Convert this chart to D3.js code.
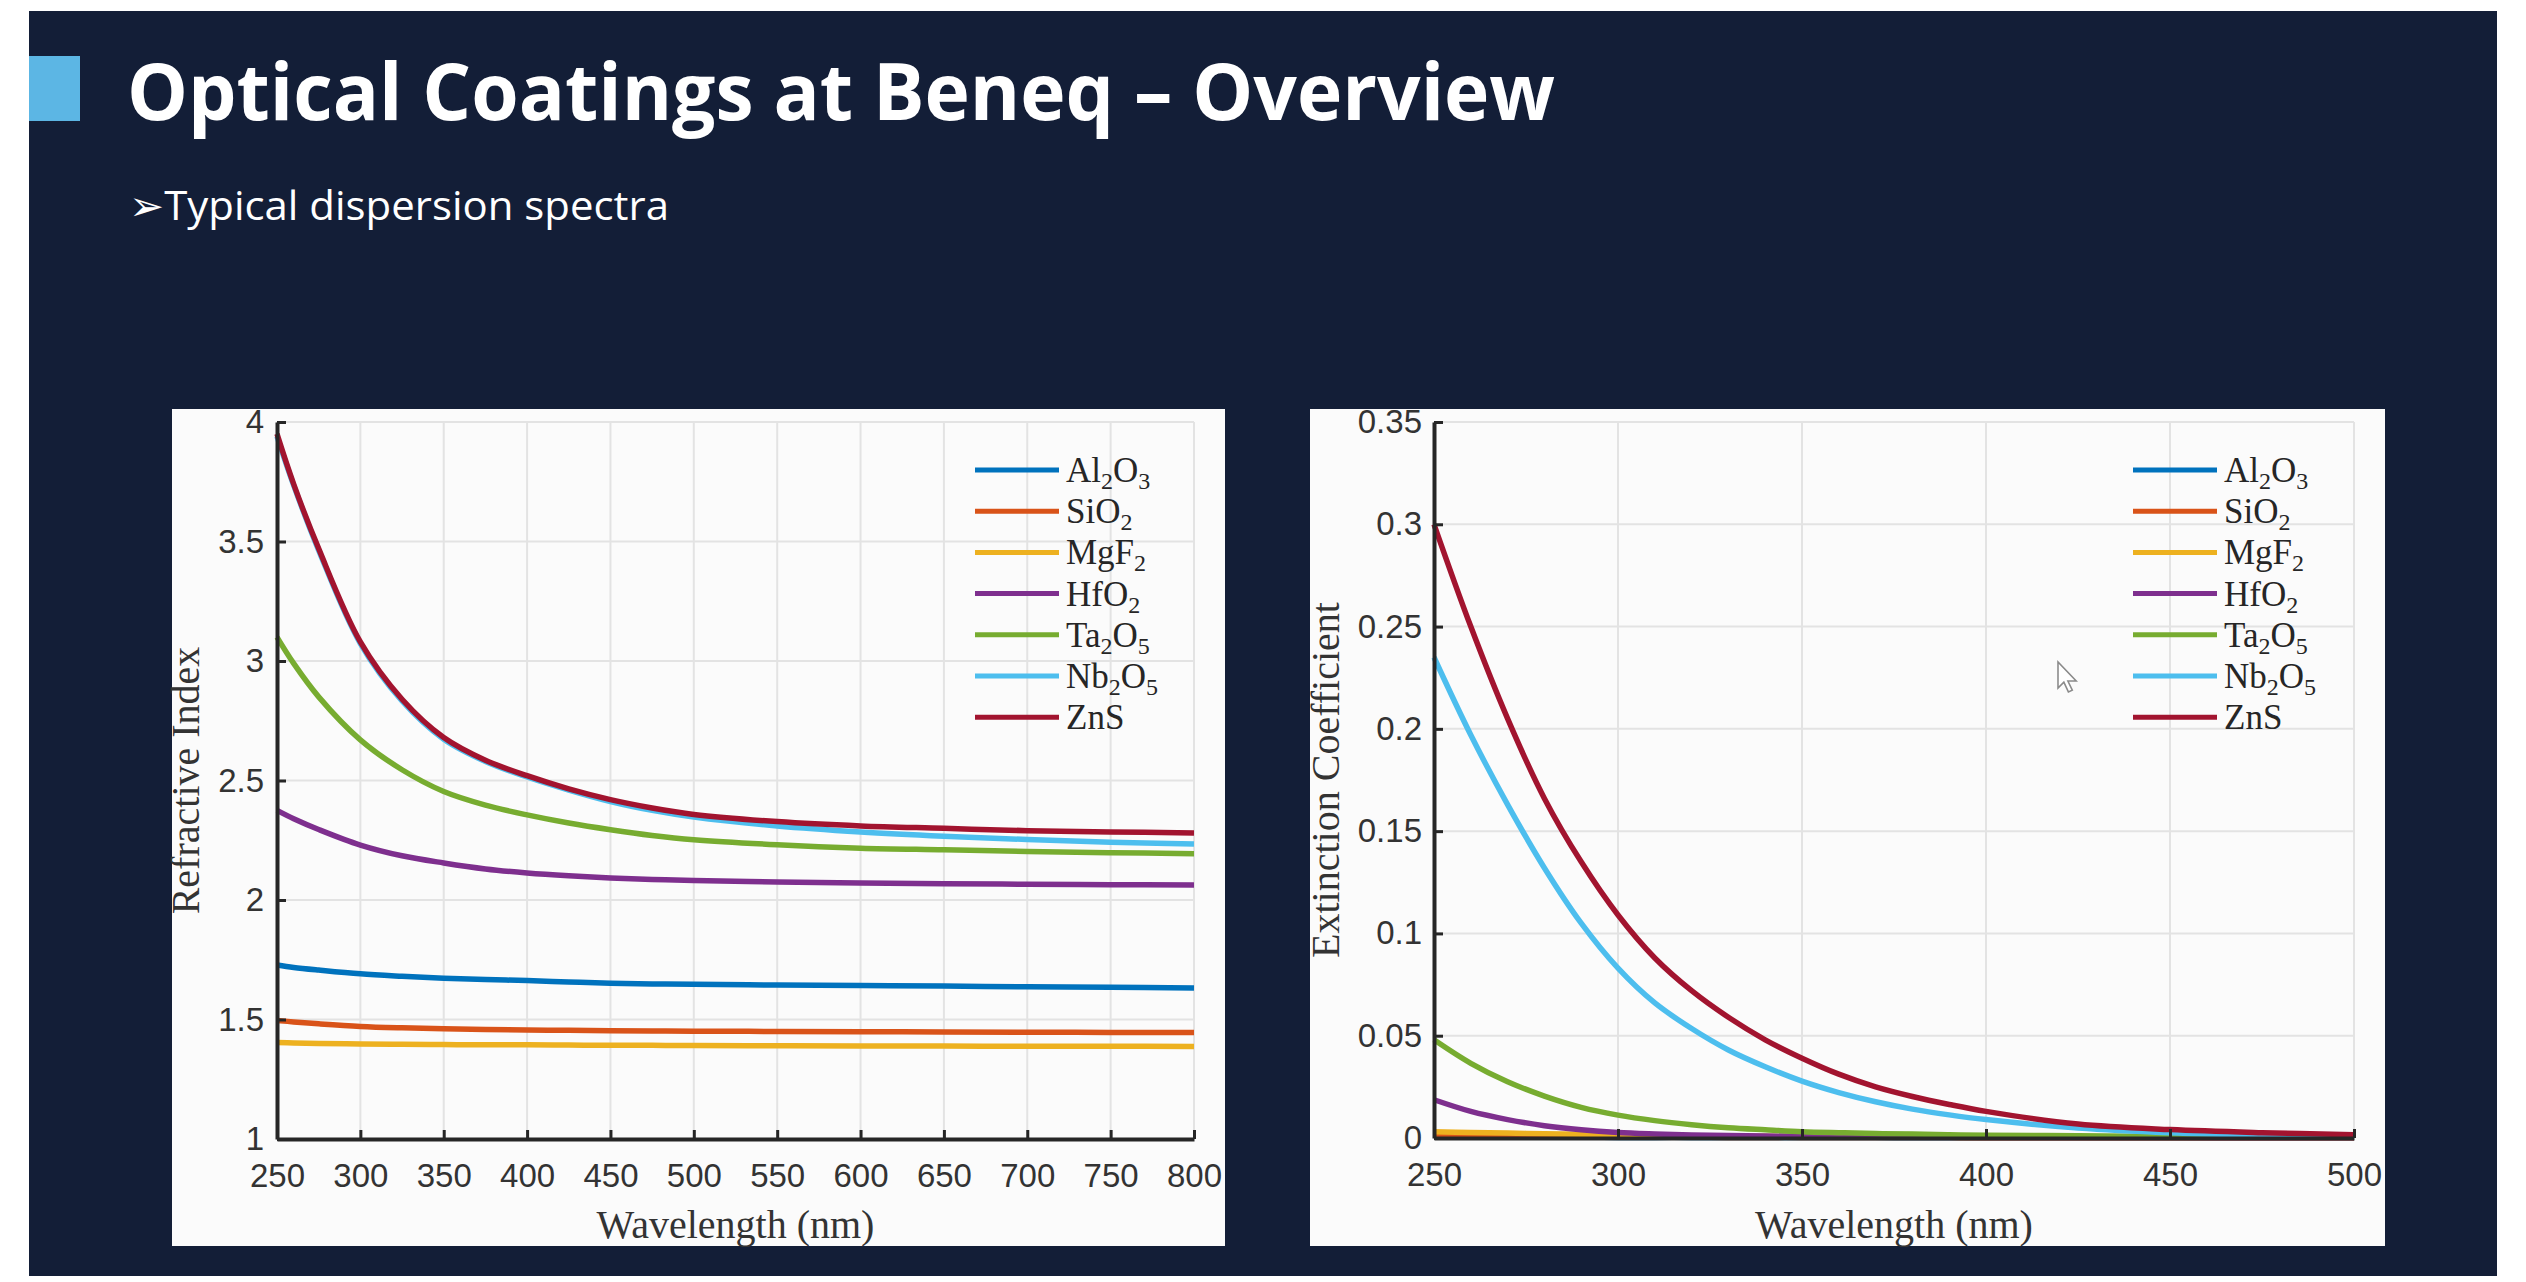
<!DOCTYPE html>
<html>
<head>
<meta charset="utf-8">
<title>Optical Coatings at Beneq – Overview</title>
<script src="https://cdn.jsdelivr.net/npm/d3@7"></script>
<style>
  html, body { margin: 0; padding: 0; background: #ffffff; }
  svg { display: block; }
</style>
</head>
<body>
<svg id="slide" width="2526" height="1282"></svg>
<script>
// ---- Materials (legend order = drawing order) ----
const materials = ["Al2O3", "SiO2", "MgF2", "HfO2", "Ta2O5", "Nb2O5", "ZnS"];
const colors = ["#0072BD", "#D95319", "#EDB120", "#7E2F8E", "#77AC30", "#4DBEEE", "#A2142F"];

// ---- Refractive index n(λ) ----
const wavelengthN = [250, 260, 275, 300, 325, 350, 375, 400, 425, 450, 475, 500, 550, 600, 650, 700, 750, 800];
const nAl2O3 = [1.728, 1.718, 1.707, 1.691, 1.681, 1.673, 1.667, 1.663, 1.657, 1.652, 1.649, 1.647, 1.644, 1.642, 1.640, 1.637, 1.635, 1.632];
const nSiO2  = [1.496, 1.490, 1.482, 1.471, 1.465, 1.461, 1.458, 1.456, 1.455, 1.453, 1.452, 1.451, 1.450, 1.449, 1.448, 1.447, 1.446, 1.446];
const nMgF2  = [1.404, 1.402, 1.400, 1.398, 1.396, 1.395, 1.394, 1.394, 1.393, 1.392, 1.392, 1.391, 1.390, 1.389, 1.389, 1.388, 1.388, 1.387];
const nHfO2  = [2.375, 2.340, 2.295, 2.230, 2.185, 2.155, 2.130, 2.113, 2.101, 2.092, 2.086, 2.082, 2.075, 2.071, 2.068, 2.066, 2.064, 2.063];
const nTa2O5 = [3.100, 2.990, 2.850, 2.670, 2.545, 2.454, 2.397, 2.356, 2.322, 2.294, 2.270, 2.252, 2.231, 2.217, 2.210, 2.203, 2.198, 2.194];
const nNb2O5 = [3.940, 3.735, 3.463, 3.073, 2.833, 2.673, 2.580, 2.515, 2.460, 2.412, 2.375, 2.347, 2.310, 2.285, 2.267, 2.253, 2.242, 2.234];
const nZnS   = [3.950, 3.740, 3.470, 3.080, 2.840, 2.680, 2.585, 2.520, 2.465, 2.420, 2.385, 2.358, 2.328, 2.310, 2.300, 2.290, 2.285, 2.280];

// ---- Extinction coefficient k(λ) ----
const wavelengthK = [250, 260, 270, 280, 290, 300, 310, 320, 330, 340, 350, 360, 370, 380, 390, 400, 425, 450, 475, 500];
const kAl2O3 = [0.0005, 0.0005, 0.0004, 0.0004, 0.0004, 0.0003, 0.0003, 0.0003, 0.0002, 0.0002, 0.0002, 0.0002, 0.0002, 0.0001, 0.0001, 0.0001, 0.0001, 0.0001, 0.0001, 0.0001];
const kSiO2  = [0.0009, 0.0008, 0.0007, 0.0006, 0.0005, 0.0005, 0.0004, 0.0004, 0.0003, 0.0003, 0.0003, 0.0002, 0.0002, 0.0002, 0.0002, 0.0001, 0.0001, 0.0001, 0.0001, 0.0001];
const kMgF2  = [0.0030, 0.0027, 0.0024, 0.0021, 0.0018, 0.0015, 0.0013, 0.0011, 0.0009, 0.0008, 0.0007, 0.0006, 0.0005, 0.0004, 0.0004, 0.0003, 0.0002, 0.0002, 0.0001, 0.0001];
const kHfO2  = [0.0187, 0.0130, 0.0090, 0.0060, 0.0040, 0.0027, 0.0020, 0.0015, 0.0012, 0.0010, 0.0008, 0.0007, 0.0006, 0.0005, 0.0004, 0.0003, 0.0002, 0.0002, 0.0001, 0.0001];
const kTa2O5 = [0.0480, 0.0365, 0.0275, 0.0205, 0.0150, 0.0112, 0.0085, 0.0065, 0.0050, 0.0040, 0.0031, 0.0026, 0.0022, 0.0019, 0.0016, 0.0014, 0.0011, 0.0008, 0.0006, 0.0005];
const kNb2O5 = [0.2350, 0.1970, 0.1630, 0.1320, 0.1050, 0.0830, 0.0660, 0.0535, 0.0430, 0.0348, 0.0278, 0.0222, 0.0177, 0.0141, 0.0113, 0.0090, 0.0049, 0.0026, 0.0014, 0.0008];
const kZnS   = [0.3000, 0.2500, 0.2050, 0.1660, 0.1350, 0.1090, 0.0880, 0.0720, 0.0590, 0.0480, 0.0390, 0.0312, 0.0250, 0.0203, 0.0164, 0.0130, 0.0068, 0.0041, 0.0026, 0.0016];

// ---- Axis ticks ----
const nXTicks = [250, 300, 350, 400, 450, 500, 550, 600, 650, 700, 750, 800];
const nYTicks = [1, 1.5, 2, 2.5, 3, 3.5, 4];
const kXTicks = [250, 300, 350, 400, 450, 500];
const kYTicks = [0, 0.05, 0.1, 0.15, 0.2, 0.25, 0.3, 0.35];

const nSeries = [nAl2O3, nSiO2, nMgF2, nHfO2, nTa2O5, nNb2O5, nZnS];
const kSeries = [kAl2O3, kSiO2, kMgF2, kHfO2, kTa2O5, kNb2O5, kZnS];

const svg = d3.select("#slide");

// ---- Slide background and heading ----
svg.append("rect").attr("x", 29).attr("y", 11).attr("width", 2468).attr("height", 1265).attr("fill", "#131e37");
svg.append("rect").attr("x", 29).attr("y", 56).attr("width", 51).attr("height", 65).attr("fill", "#5cb6e4");
svg.append("text")
  .attr("x", 127).attr("y", 120)
  .attr("font-family", "'Open Sans', 'Noto Sans', sans-serif")
  .attr("font-weight", 700).attr("font-size", 78)
  .attr("fill", "#ffffff")
  .attr("textLength", 1428).attr("lengthAdjust", "spacingAndGlyphs")
  .text("Optical Coatings at Beneq – Overview");
svg.append("text")
  .attr("x", 129).attr("y", 220)
  .attr("font-family", "'Open Sans', 'Noto Sans', 'DejaVu Sans', sans-serif")
  .attr("font-size", 41)
  .attr("fill", "#ffffff")
  .attr("textLength", 540).attr("lengthAdjust", "spacingAndGlyphs")
  .text("➢Typical dispersion spectra");

// chemical formula with digits set as subscripts
function addFormula(sel, name) {
  const parts = name.match(/[A-Za-z]+|\d+/g);
  let lowered = false;
  parts.forEach(p => {
    const sub = /^\d+$/.test(p);
    const span = sel.append("tspan").attr("font-size", sub ? 24 : 35).text(p);
    if (sub && !lowered) { span.attr("dy", 7); lowered = true; }
    else if (!sub && lowered) { span.attr("dy", -7); lowered = false; }
  });
}

function drawChart(opts) {
  const g = svg.append("g");
  g.append("rect")
    .attr("x", opts.panel[0]).attr("y", opts.panel[1])
    .attr("width", opts.panel[2]).attr("height", opts.panel[3])
    .attr("fill", "#fbfbfb");

  const x = d3.scaleLinear().domain(opts.xDomain).range(opts.xRange);
  const y = d3.scaleLinear().domain(opts.yDomain).range(opts.yRange);

  // grid
  g.append("g").selectAll("line").data(opts.xTicks).join("line")
    .attr("x1", d => x(d)).attr("x2", d => x(d))
    .attr("y1", y.range()[0]).attr("y2", y.range()[1])
    .attr("stroke", "#e3e3e3").attr("stroke-width", 2);
  g.append("g").selectAll("line").data(opts.yTicks).join("line")
    .attr("y1", d => y(d)).attr("y2", d => y(d))
    .attr("x1", x.range()[0]).attr("x2", x.range()[1])
    .attr("stroke", "#e3e3e3").attr("stroke-width", 2);

  // series
  const line = d3.line()
    .x((d, i) => x(opts.lambda[i]))
    .y(d => y(d))
    .curve(d3.curveCatmullRom.alpha(0.5));
  g.append("g").selectAll("path").data(opts.series).join("path")
    .attr("d", d => line(d))
    .attr("fill", "none")
    .attr("stroke", (d, i) => colors[i])
    .attr("stroke-width", 5.5)
    .attr("stroke-linejoin", "round");

  // axes
  const xAxis = d3.axisBottom(x).tickValues(opts.xTicks).tickFormat(d => String(d))
    .tickSizeInner(-9).tickSizeOuter(0).tickPadding(25);
  const yAxis = d3.axisLeft(y).tickValues(opts.yTicks).tickFormat(d => String(d))
    .tickSizeInner(-9).tickSizeOuter(0).tickPadding(opts.yPad);
  const ax = g.append("g").attr("transform", `translate(0,${y.range()[0]})`).call(xAxis);
  const ay = g.append("g").attr("transform", `translate(${x.range()[0]},0)`).call(yAxis);
  [ax, ay].forEach(a => {
    a.select(".domain").attr("stroke", "#262626").attr("stroke-width", 4);
    a.selectAll(".tick line").attr("stroke", "#262626").attr("stroke-width", 3);
    a.selectAll(".tick text")
      .attr("font-family", "'Liberation Sans', Arial, sans-serif")
      .attr("font-size", 33).attr("fill", "#333333");
  });

  // axis titles
  g.append("text")
    .attr("x", (x.range()[0] + x.range()[1]) / 2).attr("y", opts.xTitleY)
    .attr("text-anchor", "middle")
    .attr("font-family", "'Liberation Serif', 'Times New Roman', serif")
    .attr("font-size", 40).attr("fill", "#333333")
    .text("Wavelength (nm)");
  g.append("text")
    .attr("transform", `translate(${opts.yTitleX},${(y.range()[0] + y.range()[1]) / 2}) rotate(-90)`)
    .attr("text-anchor", "middle")
    .attr("font-family", "'Liberation Serif', 'Times New Roman', serif")
    .attr("font-size", 40).attr("fill", "#333333")
    .text(opts.yTitle);

  // legend
  const lg = g.append("g").attr("transform", `translate(${x.range()[1] + opts.legendDx},${opts.legendY})`);
  materials.forEach((m, i) => {
    const row = lg.append("g").attr("transform", `translate(0,${i * 41.2})`);
    row.append("line").attr("x1", 0).attr("x2", 84).attr("y1", 0).attr("y2", 0)
      .attr("stroke", colors[i]).attr("stroke-width", 5);
    const t = row.append("text").attr("x", 91).attr("y", 12)
      .attr("font-family", "'Liberation Serif', 'Times New Roman', serif")
      .attr("font-size", 35).attr("fill", "#262626");
    addFormula(t, m);
  });
  return { x, y, g };
}

drawChart({
  panel: [172, 409, 1053, 837],
  xDomain: [250, 800], xRange: [277, 1194],
  yDomain: [1, 4], yRange: [1139, 422],
  xTicks: nXTicks, yTicks: nYTicks, yPad: 13,
  lambda: wavelengthN, series: nSeries,
  xTitleY: 1238, yTitleX: 199, yTitle: "Refractive Index",
  legendDx: -219, legendY: 470
});

const right = drawChart({
  panel: [1310, 409, 1075, 837],
  xDomain: [250, 500], xRange: [1434, 2354],
  yDomain: [0, 0.35], yRange: [1138, 422],
  xTicks: kXTicks, yTicks: kYTicks, yPad: 12,
  lambda: wavelengthK, series: kSeries,
  xTitleY: 1238, yTitleX: 1339, yTitle: "Extinction Coefficient",
  legendDx: -221, legendY: 470
});

// mouse pointer resting on the extinction chart
right.g.append("path")
  .attr("transform", "translate(2058,662) scale(1.3)")
  .attr("d", "M0,0 L0,20 L4.5,15.5 L8,23 L11,21.7 L7.6,14.6 L14,14.6 Z")
  .attr("fill", "#ffffff").attr("stroke", "#8a8a8a").attr("stroke-width", 1.2);
</script>
</body>
</html>
